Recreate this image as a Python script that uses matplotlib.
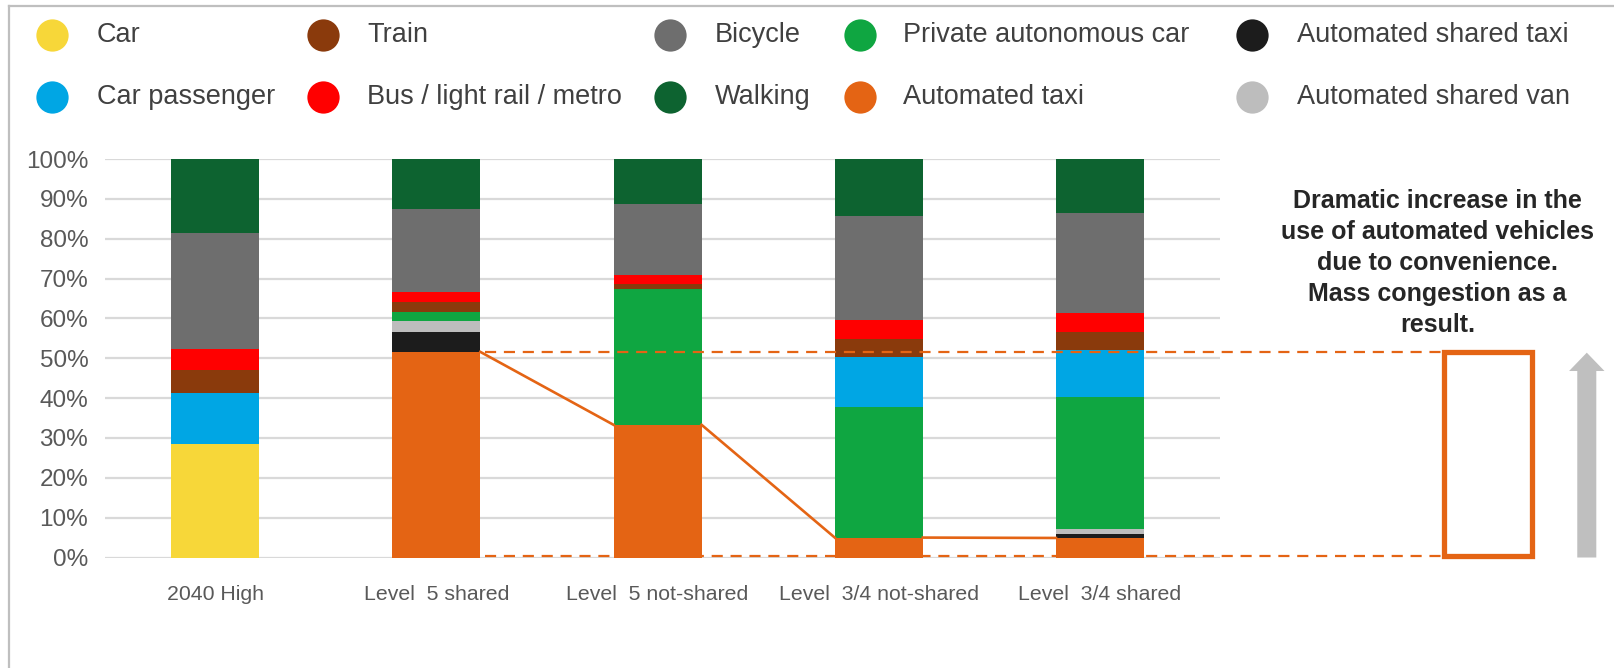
import matplotlib.pyplot as plt
from matplotlib.patches import Rectangle, FancyArrow

plt.rcParams['font.family'] = ['Liberation Sans', 'DejaVu Sans']

# scenarios on the x axis
scenarios = ['2040 High', 'Level  5 shared', 'Level  5 not-shared',
             'Level  3/4 not-shared', 'Level  3/4 shared']

# mode share (%) per scenario
car          = [28.6, 0, 0, 0, 0]
auto_taxi    = [0, 51.6, 33.3, 5.0, 4.9]
shared_taxi  = [0, 5.0, 0, 0, 1.0]
shared_van   = [0, 2.8, 0, 0, 1.3]
private_av   = [0, 2.3, 34.0, 32.8, 33.0]
car_pass     = [12.6, 0, 0, 12.4, 11.9]
train        = [5.8, 2.3, 1.3, 4.6, 4.5]
bus          = [5.3, 2.5, 2.3, 4.8, 4.7]
bicycle      = [29.2, 20.9, 17.7, 26.1, 25.1]
walking      = [18.5, 12.6, 11.4, 14.3, 13.6]

# stacking order, bottom to top
series = [
    ('Car', car, '#F7D739'),
    ('Automated taxi', auto_taxi, '#E46414'),
    ('Automated shared taxi', shared_taxi, '#1C1C1C'),
    ('Automated shared van', shared_van, '#BDBDBD'),
    ('Private autonomous car', private_av, '#0FA641'),
    ('Car passenger', car_pass, '#00A6E4'),
    ('Train', train, '#8A3A0C'),
    ('Bus / light rail / metro', bus, '#FF0000'),
    ('Bicycle', bicycle, '#6E6E6E'),
    ('Walking', walking, '#0D6330'),
]

# legend layout as in the original (column-major)
legend_order = ['Car', 'Car passenger', 'Train', 'Bus / light rail / metro',
                'Bicycle', 'Walking', 'Private autonomous car', 'Automated taxi',
                'Automated shared taxi', 'Automated shared van']

orange = '#E46414'

fig = plt.figure(figsize=(16.14, 6.68), dpi=100)
ax = fig.add_axes([98 / 1614, (668 - 557.5) / 668, (1614 - 98) / 1614, (557.5 - 159) / 668])

x = list(range(len(scenarios)))
bw = 0.398
bottom = [0] * len(x)
for name, vals, col in series:
    ax.bar(x, vals, bw, bottom=bottom, color=col, zorder=2)
    bottom = [b + v for b, v in zip(bottom, vals)]

# gridlines
yt = list(range(0, 101, 10))
ax.hlines(yt, -0.497, 4.54, color='#D9D9D9', lw=1.6, zorder=1)

ax.set_xlim(-0.529, 6.323)
ax.set_ylim(0, 100)
ax.set_yticks(yt)
ax.set_yticklabels([f'{v}%' for v in yt], fontsize=17.5, color='#595959')
ax.set_xticks(x)
ax.set_xticklabels(scenarios, fontsize=15.3, color='#595959')
ax.tick_params(length=0)
ax.tick_params(axis='y', pad=7)
ax.tick_params(axis='x', pad=20)
for s in ax.spines.values():
    s.set_visible(False)

# series line over automated taxi tops
taxi_top = [c + a for c, a in zip(car, auto_taxi)]
for i in range(1, len(x) - 1):
    ax.plot([x[i] + bw / 2, x[i + 1] - bw / 2], [taxi_top[i], taxi_top[i + 1]],
            color=orange, lw=1.9, zorder=3)

# highlighted range
rx0, rx1 = 5.553, 5.954
ax.hlines([taxi_top[1], 0.45], x[1] + bw / 2 + 0.02, rx0, color=orange, lw=1.6,
          linestyles=(0, (5, 3.5)), zorder=3)
ax.add_patch(Rectangle((rx0, 0.3), rx1 - rx0, taxi_top[1] - 0.3, fill=False,
                       ec=orange, lw=3.8, zorder=4, clip_on=False))
ax.add_patch(FancyArrow(6.2, 0, 0, 51.4, width=0.086, head_width=0.16,
                        head_length=4.6, length_includes_head=True,
                        color='#BFBFBF', lw=0, zorder=3))

ax.text(5.525, 74, 'Dramatic increase in the\nuse of automated vehicles\n'
        'due to convenience.\nMass congestion as a\nresult.',
        ha='center', va='center', fontsize=18, fontweight='bold',
        color='#262626', linespacing=1.37)

# legend drawn in pixel coordinates
lg = fig.add_axes([0, 0, 1, 1])
lg.set_xlim(0, 1614)
lg.set_ylim(668, 0)
lg.axis('off')
lg.patch.set_alpha(0)
colors = {n: c for n, _, c in series}
mx = [52, 323, 670, 860, 1252]
tx = [97, 367, 715, 903, 1297]
my = [35, 97]
for k, name in enumerate(legend_order):
    c, r = k // 2, k % 2
    lg.scatter(mx[c], my[r], s=540, color=colors[name], lw=0)
    lg.text(tx[c], my[r], name, fontsize=19.5, color='#404040', va='center', ha='left')

# frame lines of the original picture
lg.plot([9, 1614], [6, 6], color='#BFBFBF', lw=1.6)
lg.plot([9, 9], [6, 668], color='#BFBFBF', lw=1.6)

fig.savefig('out.png', dpi=100)
